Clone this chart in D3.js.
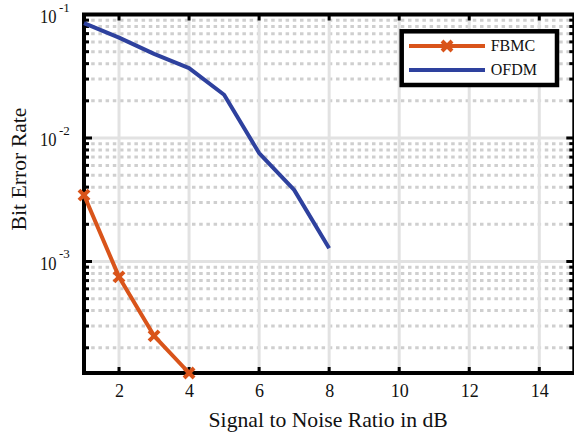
<!DOCTYPE html>
<html>
<head>
<meta charset="utf-8">
<script src="https://cdn.jsdelivr.net/npm/d3@7"></script>
<style>
  html, body { margin: 0; padding: 0; background: #fff; }
  svg text { font-family: "Liberation Serif", "Times New Roman", serif !important; }
</style>
</head>
<body>
<svg id="chart" width="574" height="434"></svg>
<script>
// SNR points (dB) and measured bit error rates
const snrFBMC = [1, 2, 3, 4];
const berFBMC = [3.45e-3, 7.5e-4, 2.5e-4, 1.25e-4];
const snrOFDM = [1, 2, 3, 4, 5, 6, 7, 8];
const berOFDM = [0.085, 0.065, 0.048, 0.0368, 0.0224, 0.00755, 0.0038, 0.00128];
const seriesNames = ["FBMC", "OFDM"];
const xTicks = [2, 4, 6, 8, 10, 12, 14];
const yDecades = [-1, -2, -3];
const xDomain = [1, 15];
const yDomain = [1.25e-4, 0.1];

const svg = d3.select("#chart");
const pLeft = 84, pRight = 574.3, pTop = 14.5, pBottom = 373;

const x = d3.scaleLinear().domain(xDomain).range([pLeft, pRight]);
const y = d3.scaleLog().domain(yDomain).range([pBottom, pTop]);

const colors = { FBMC: "#d9541a", OFDM: "#2e419e" };

// minor grid (dotted) at 2..9 x 10^k
const minorVals = [];
[-4, -3, -2].forEach(k => {
  for (let m = 2; m <= 9; m++) {
    const v = m * Math.pow(10, k);
    if (v > yDomain[0] && v < yDomain[1]) minorVals.push(v);
  }
});
const grid = svg.append("g");
grid.selectAll("line.minor").data(minorVals).join("line")
  .attr("class", "minor")
  .attr("x1", pLeft).attr("x2", pRight)
  .attr("y1", d => y(d)).attr("y2", d => y(d))
  .attr("stroke", "#cfcfcf").attr("stroke-width", 3)
  .attr("stroke-dasharray", "3.5,3.7");

// major grid
grid.selectAll("line.vx").data(xTicks).join("line")
  .attr("class", "vx")
  .attr("x1", d => x(d)).attr("x2", d => x(d))
  .attr("y1", pTop).attr("y2", pBottom)
  .attr("stroke", "#e2e2e2").attr("stroke-width", 3);
grid.selectAll("line.hy").data(yDecades.map(k => Math.pow(10, k)).filter(v => v < yDomain[1])).join("line")
  .attr("class", "hy")
  .attr("x1", pLeft).attr("x2", pRight)
  .attr("y1", d => y(d)).attr("y2", d => y(d))
  .attr("stroke", "#e2e2e2").attr("stroke-width", 3);

// bottom tick labels via d3.axisBottom
const xAxis = d3.axisBottom(x).tickValues(xTicks).tickSize(0).tickPadding(11).tickFormat(d3.format("d"));
const gx = svg.append("g").attr("transform", `translate(0,${pBottom})`).call(xAxis);
gx.select(".domain").remove();
gx.attr("font-family", null).attr("font-size", null);
gx.selectAll("text").style("font-size", "18px").attr("fill", "#111");

// tick marks (inward) on all four sides
const ticks = svg.append("g").attr("stroke", "#000").attr("stroke-width", 3);
xTicks.forEach(t => {
  ticks.append("line").attr("x1", x(t)).attr("x2", x(t)).attr("y1", pBottom).attr("y2", pBottom - 6);
  ticks.append("line").attr("x1", x(t)).attr("x2", x(t)).attr("y1", pTop).attr("y2", pTop + 6);
});
yDecades.forEach(k => {
  const v = Math.pow(10, k);
  ticks.append("line").attr("x1", pLeft).attr("x2", pLeft + 8).attr("y1", y(v)).attr("y2", y(v));
  ticks.append("line").attr("x1", pRight).attr("x2", pRight - 8).attr("y1", y(v)).attr("y2", y(v));
});
minorVals.forEach(v => {
  ticks.append("line").attr("x1", pLeft).attr("x2", pLeft + 5).attr("y1", y(v)).attr("y2", y(v));
  ticks.append("line").attr("x1", pRight).attr("x2", pRight - 5).attr("y1", y(v)).attr("y2", y(v));
});

// box
svg.append("rect")
  .attr("x", pLeft).attr("y", pTop)
  .attr("width", pRight - pLeft).attr("height", pBottom - pTop)
  .attr("fill", "none").attr("stroke", "#000").attr("stroke-width", 4);

// y tick labels: 10^k (base slightly condensed, exponent raised)
const yl = svg.append("g").attr("fill", "#111");
yDecades.forEach(k => {
  const yy = y(Math.pow(10, k));
  yl.append("text")
    .attr("transform", `translate(40,${yy + 8.5}) scale(0.87,1)`)
    .style("font-size", "19px").text("10");
  yl.append("text")
    .attr("x", 59).attr("y", yy - 3)
    .style("font-size", "13px").text(String(k));
});

// axis titles
svg.append("text")
  .attr("x", (pLeft + pRight) / 2 - 1).attr("y", 426.5)
  .attr("text-anchor", "middle").style("font-size", "21.7px").attr("fill", "#111")
  .text("Signal to Noise Ratio in dB");
svg.append("text")
  .attr("transform", "translate(26,169) rotate(-90)")
  .attr("text-anchor", "middle").style("font-size", "21.7px").attr("fill", "#111")
  .text("Bit Error Rate");

// data lines
const line = d3.line().x(d => x(d[0])).y(d => y(d[1]));
const fbmc = snrFBMC.map((s, i) => [s, berFBMC[i]]);
const ofdm = snrOFDM.map((s, i) => [s, berOFDM[i]]);

svg.append("path").datum(ofdm).attr("d", line)
  .attr("fill", "none").attr("stroke", colors.OFDM).attr("stroke-width", 4)
  .attr("stroke-linejoin", "round");
svg.append("path").datum(fbmc).attr("d", line)
  .attr("fill", "none").attr("stroke", colors.FBMC).attr("stroke-width", 4)
  .attr("stroke-linejoin", "round");

const xMarker = s => `M${-s},${-s}L${s},${s}M${-s},${s}L${s},${-s}`;
svg.append("g").selectAll("path").data(fbmc).join("path")
  .attr("transform", d => `translate(${x(d[0])},${y(d[1])})`)
  .attr("d", xMarker(5))
  .attr("fill", "none").attr("stroke", colors.FBMC).attr("stroke-width", 4);

// legend
const lg = svg.append("g");
lg.append("rect")
  .attr("x", 401.7).attr("y", 31.3).attr("width", 155.3).attr("height", 53.7)
  .attr("fill", "#fff").attr("stroke", "#000").attr("stroke-width", 4.5);
seriesNames.forEach((name, i) => {
  const yy = 46 + i * 24;
  lg.append("line").attr("x1", 409).attr("x2", 485).attr("y1", yy).attr("y2", yy)
    .attr("stroke", colors[name]).attr("stroke-width", 4);
  if (name === "FBMC") {
    lg.append("path").attr("transform", `translate(447,${yy})`).attr("d", xMarker(5))
      .attr("fill", "none").attr("stroke", colors[name]).attr("stroke-width", 4);
  }
  lg.append("text").attr("x", 490.7).attr("y", yy + 5).style("font-size", "16px").attr("fill", "#111")
    .text(name);
});
</script>
</body>
</html>
